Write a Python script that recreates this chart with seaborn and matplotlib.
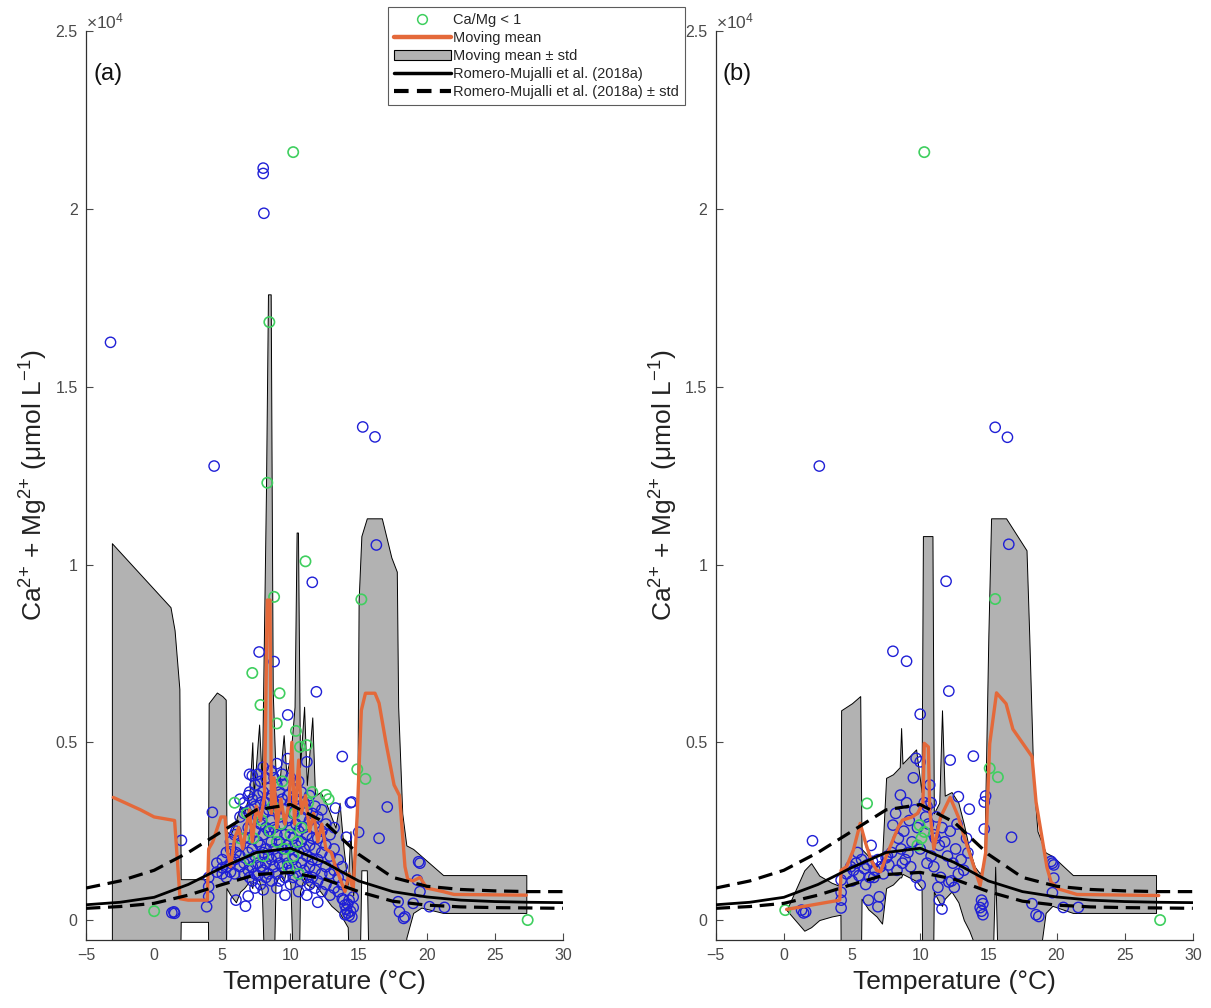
import matplotlib
matplotlib.use("Agg")
import matplotlib.pyplot as plt
import seaborn as sns
import pandas as pd
from matplotlib.ticker import FuncFormatter, MultipleLocator
from matplotlib.lines import Line2D
from matplotlib.patches import Patch

# ---------------- data ----------------
# Romero-Mujalli et al. (2018a) curve
rm_T = [-5, -2.5, 0, 2.5, 5, 7.5, 10, 12.5, 15, 17.5, 20, 22.5, 25, 27.5, 30]
rm_mean = [430, 500, 640, 1000, 1480, 1900, 2020, 1620, 1100, 800, 650, 560, 520, 500, 490]
rm_up = [900, 1100, 1400, 1900, 2500, 3100, 3250, 2750, 1850, 1200, 950, 860, 820, 800, 800]
rm_lo = [330, 380, 470, 700, 1000, 1280, 1340, 1150, 800, 530, 420, 370, 350, 340, 330]

# Panel (a) moving mean
a_mean_T = [-3.0, -1.0, 0.0, 1.5, 1.9, 2.5, 3.9, 4.0, 4.3, 4.9, 5.2, 5.4, 5.6, 5.9, 6.2, 6.5, 6.8,
            7.0, 7.2, 7.5, 7.8, 8.1, 8.3, 8.5, 8.6, 8.8, 9.0, 9.3, 9.6, 9.9, 10.1, 10.3, 10.6,
            10.8, 11.1, 11.4, 11.7, 12.0, 12.3, 12.6, 13.0, 13.3, 13.6, 14.0, 14.3, 14.6, 14.9,
            15.2, 15.5, 16.2, 16.5, 17.0, 17.6, 18.0, 18.4, 18.6, 19.0, 19.5, 20.0, 21.2, 22.0, 27.3]
a_mean_V = [3450, 3100, 2900, 2800, 600, 560, 560, 2000, 2200, 2900, 2900, 1900, 1500, 2300, 2600,
            2000, 2700, 3100, 2200, 3200, 2800, 3500, 9000, 9000, 3000, 4000, 2600, 3400, 2700,
            3300, 5000, 2700, 4500, 3000, 3500, 2500, 3000, 2200, 2700, 2000, 1900, 1500, 1200,
            800, 1300, 840, 3000, 5900, 6380, 6380, 6100, 5000, 3800, 3500, 1500, 1150, 1100,
            1200, 900, 800, 720, 700]

# Panel (a) moving mean +/- std band
a_band_T = [-3.1, 1.2, 1.5, 1.85, 1.95, 3.95, 4.0, 4.6, 5.0, 5.25, 5.3, 5.6, 6.0, 6.3, 6.6, 7.0,
            7.2, 7.3, 7.7, 7.9, 8.2, 8.35, 8.55, 8.7, 8.9, 9.2, 9.5, 9.7, 10.0, 10.3, 10.45,
            10.55, 10.7, 11.0, 11.2, 11.6, 11.8, 12.2, 12.6, 13.0, 13.3, 13.6, 13.9, 14.2, 14.4,
            14.6, 14.9, 15.0, 15.2, 15.6, 15.8, 16.7, 17.4, 17.8, 17.9, 18.2, 18.5, 19.0, 19.6,
            21.2, 27.3]
a_band_lo = [-3000, -3000, -3000, -3000, -50, -50, -3000, -3000, -3000, -3000, 900, 700, 500, 800,
             900, 1100, 900, 1200, 1100, 800, -3000, -3000, -3000, -3000, 1000, 1300, 1100, 1400,
             1000, -3000, -3000, -3000, 800, 1200, 1000, 900, 1000, 800, 600, 400, 300, 200, 0,
             -200, -3000, -3000, -3000, -3000, 1400, 1400, -3000, -3000, -3000, -3000, -3000,
             -3000, -500, 200, 350, 200, 200]
a_band_hi = [10600, 8800, 8150, 6500, 1150, 1150, 6100, 6400, 6300, 6200, 2500, 2400, 2800, 3200,
             3000, 3600, 5000, 3500, 5500, 3800, 12000, 17600, 17600, 6400, 4200, 3900, 5200,
             4100, 4600, 6000, 10900, 10900, 4300, 6000, 3800, 5700, 3500, 3600, 3300, 2900,
             2600, 3300, 2000, 1000, 2500, 700, 3000, 9000, 10800, 11300, 11300, 11300, 10200,
             9800, 6000, 3000, 2100, 2000, 1800, 1265, 1265]

# Panel (a) samples, Ca/Mg >= 1
a_blue_T = [-3.2, 4.4, 8.0, 8.0, 8.05, 7.7, 8.8, 11.9, 11.6, 9.8, 9.8, 13.8, 16.3, 15.3, 16.2, 17.1,
            16.5, 14.5, 13.3, 14.1, 15.0, 4.27, 2.0, 1.3, 1.5, 1.45, 3.85, 4.0, 4.0, 6.0, 6.7, 6.9,
            11.2, 7.2, 19.4, 19.5, 19.3, 19.5, 18.4, 18.0, 20.2, 21.3, 19.0, 17.9, 18.3,
            13.9, 14.0, 14.1, 14.2, 14.3, 14.4, 14.2, 14.5, 14.6, 14.0, 14.3, 14.6,
            4.0, 4.6, 4.6, 5.0, 5.0, 5.0, 5.3, 5.3, 5.3, 5.6, 5.6, 5.6, 5.6, 5.9, 5.9, 5.9,
            6.0, 6.0, 6.3, 6.3, 6.3, 6.3, 6.3, 6.6, 6.6, 6.6, 6.6, 6.6,
            6.9, 6.9, 6.9, 6.9, 7.0, 7.0, 7.0, 7.0, 7.0, 7.0, 7.2, 7.2, 7.2, 7.2, 7.2,
            7.4, 7.4, 7.4, 7.4, 7.4, 7.4, 7.6, 7.6, 7.6, 7.6, 7.6, 7.6, 7.8, 7.8, 7.8, 7.8, 7.8, 7.8,
            8.0, 8.0, 8.0, 8.0, 8.0, 8.0, 8.0, 8.2, 8.2, 8.2, 8.2, 8.2, 8.2, 8.4, 8.4, 8.4, 8.4, 8.4,
            8.6, 8.6, 8.6, 8.6, 8.6, 8.6, 8.8, 8.8, 8.8, 8.8, 8.8,
            9.0, 9.0, 9.0, 9.0, 9.0, 9.0, 9.0, 9.2, 9.2, 9.2, 9.2, 9.2, 9.4, 9.4, 9.4, 9.4, 9.4,
            9.6, 9.6, 9.6, 9.6, 9.6, 9.6, 9.8, 9.8, 9.8, 9.8,
            10.0, 10.0, 10.0, 10.0, 10.0, 10.0, 10.2, 10.2, 10.2, 10.2, 10.2, 10.4, 10.4, 10.4, 10.4,
            10.6, 10.6, 10.6, 10.6, 10.6, 10.6, 10.8, 10.8, 10.8, 10.8, 10.8,
            11.0, 11.0, 11.0, 11.0, 11.2, 11.2, 11.2, 11.2, 11.2, 11.4, 11.4, 11.4, 11.4, 11.4,
            11.6, 11.6, 11.6, 11.6, 11.8, 11.8, 11.8, 11.8, 11.8, 12.0, 12.0, 12.0, 12.0, 12.0,
            12.3, 12.3, 12.3, 12.3, 12.3, 12.6, 12.6, 12.6, 12.6, 12.9, 12.9, 12.9, 12.9,
            13.2, 13.2, 13.2, 13.2, 13.5, 13.5, 13.5, 13.8, 13.8, 13.8, 14.4]
a_blue_V = [16250, 12770, 21150, 21000, 19880, 7540, 7270, 6420, 9500, 5770, 4540, 4600, 10550, 13870,
            13590, 3180, 2300, 3320, 3150, 2330, 2470, 3030, 2240, 205, 190, 230, 375, 660, 940, 560,
            390, 675, 4450, 4060, 1640, 1600, 1125, 800, 90, 230, 375, 355, 470, 515, 47,
            560, 420, 300, 200, 130, 250, 450, 90, 350, 150, 560, 650,
            1200, 1350, 1600, 1470, 1300, 1700, 1500, 1900, 1200, 2000, 1600, 2200, 1350, 1700,
            2400, 1300, 2500, 1900, 2900, 1500, 2100, 1800, 3400, 3000, 1600, 2300, 1300, 3300,
            3500, 2600, 1900, 1400, 3600, 3100, 2300, 1700, 1200, 4100, 3400, 2800, 2000, 1500, 1100,
            3800, 3200, 2500, 1800, 1300, 900, 4100, 3500, 2900, 2200, 1600, 1250, 3900, 3300, 2700,
            2100, 1500, 1000,
            4300, 3600, 3000, 2400, 1900, 1400, 850, 4000, 3300, 2600, 2000, 1600, 1200, 3700, 3100,
            2500, 1800, 1300,
            4200, 3500, 2800, 2200, 1700, 1100, 4000, 3300, 2600, 2000, 1500,
            4400, 3800, 3100, 2400, 1800, 1300, 900, 3600, 2900, 2200, 1600, 1100, 4100, 3400, 2700,
            2000, 1500,
            3800, 3100, 2400, 1800, 1200, 700, 3500, 2800, 2100, 1600,
            4000, 3300, 2600, 2000, 1400, 1000, 3700, 3000, 2300, 1700, 1200, 3400, 2700, 2100, 1500,
            3900, 3200, 2500, 1900, 1300, 800, 3600, 2900, 2200, 1600, 1100,
            3300, 2600, 2000, 1400, 3100, 2400, 1800, 1200, 700, 3500, 2800, 2100, 1500, 1000,
            3000, 2300, 1700, 1200, 3200, 2600, 2000, 1400, 900, 2900, 2300, 1700, 1100, 500,
            3100, 2500, 1900, 1300, 800, 2700, 2100, 1500, 1000, 2400, 1800, 1300, 700,
            2600, 2000, 1400, 900, 1700, 1200, 800, 1500, 1000, 600, 3300]

# Panel (a) samples, Ca/Mg < 1
a_green_T = [10.2, 8.45, 8.3, 8.8, 11.1, 15.2, 7.2, 9.2, 7.8, 9.0, 10.4, 10.7, 11.2, 14.9, 15.5, 12.6,
             5.9, 0.0, 27.4, 12.8, 6.3, 7.3, 7.9, 8.5, 9.0, 9.3, 9.6, 10.0, 10.3, 10.5, 10.8, 11.3,
             11.6, 8.0, 7.0, 8.7, 9.8, 10.6, 6.8, 10.2, 9.4]
a_green_V = [21600, 16820, 12300, 9090, 10090, 9020, 6950, 6380, 6050, 5530, 5320, 4870, 4920, 4240,
             3970, 3520, 3300, 250, 0, 3400, 2300, 2300, 2800, 2500, 2200, 2700, 2000, 2400, 3000,
             2200, 2600, 3300, 3600, 1800, 1700, 3200, 1500, 1300, 3000, 1800, 3900]

# Panel (b) moving mean
b_mean_T = [0.2, 4.1, 4.2, 4.6, 5.1, 5.6, 6.0, 6.4, 6.8, 7.1, 7.5, 8.0, 8.4, 8.7, 9.4, 9.8, 10.2,
            10.3, 10.6, 10.7, 11.0, 11.5, 12.2, 12.8, 13.3, 14.4, 14.8, 15.1, 15.6, 16.3, 16.8,
            18.2, 18.5, 19.3, 19.6, 20.2, 21.5, 27.5]
b_mean_V = [300, 560, 1400, 1500, 1970, 2720, 2160, 1690, 1400, 1360, 1780, 2250, 2620, 2810, 2900,
            3000, 3280, 4970, 4870, 3090, 2000, 2900, 3450, 2900, 2250, 970, 1890, 4960, 6390,
            6085, 5370, 4600, 3320, 1480, 1070, 870, 720, 690]

# Panel (b) band
b_band_T = [0.2, 1.5, 2.0, 2.6, 3.5, 4.15, 4.2, 5.0, 5.6, 5.7, 6.2, 6.8, 7.2, 7.5, 8.0, 8.5, 8.6,
            8.7, 9.2, 9.7, 10.1, 10.2, 10.9, 11.0, 11.4, 11.6, 11.8, 12.3, 12.8, 13.2, 13.6, 14.0,
            14.4, 14.7, 15.0, 15.2, 15.5, 15.8, 16.3, 17.8, 18.0, 18.3, 18.6, 19.2, 19.7, 21.2,
            27.3]
b_band_lo = [280, -300, -200, 0, 100, 150, -3000, -3000, -3000, 600, 300, 100, -100, 900, 1000,
             1200, 1200, 1300, 1200, 1100, 900, -3000, -3000, 800, 500, 400, 600, 800, 500, 0,
             -300, -700, -1500, -3000, -3000, -3000, 1500, -3000, -3000, -3000, -3000, -3000,
             -1500, 200, 400, 200, 200]
b_band_hi = [280, 1400, 1600, 1250, 1050, 950, 5900, 6100, 6300, 2000, 1800, 1500, 1700, 4000, 4100,
             4300, 5400, 4400, 4600, 4800, 3600, 10800, 10800, 3000, 3300, 5900, 3500, 3600, 3300,
             2700, 2000, 1500, 1300, 1700, 8000, 11300, 11300, 11300, 11300, 10400, 8000, 4000,
             2500, 1900, 1800, 1265, 1265]

# Panel (b) samples, Ca/Mg >= 1
b_blue_T = [2.6, 15.5, 16.4, 16.5, 11.9, 8.0, 9.0, 12.1, 10.0, 13.9, 12.2, 14.8, 16.7, 9.7, 9.5, 10.0,
            2.1, 8.55, 8.0, 13.5, 12.8, 13.6, 14.7, 14.7, 1.3, 1.6, 1.45, 4.2, 4.2, 4.2, 4.2, 6.2,
            6.9, 7.0, 10.0, 19.6, 19.7, 19.8, 19.8, 19.7, 18.2, 18.7, 18.5, 20.5, 21.6, 14.6, 14.5,
            14.4, 14.6, 14.5, 11.3, 11.4, 11.6, 12.1, 12.5,
            4.6, 4.9, 5.1, 5.3, 5.5, 5.7, 5.9, 6.1, 6.3, 6.5, 6.7, 6.9, 7.1, 7.3, 7.5, 7.7, 5.0, 6.0,
            8.2, 8.4, 8.6, 8.8, 9.0, 9.2, 9.4, 9.6, 9.8, 10.0, 8.9, 9.3, 9.7, 8.3, 7.9,
            10.3, 10.4, 10.5, 10.6, 10.8, 11.0, 11.2, 11.4, 11.6, 11.8, 12.0, 12.2, 12.4, 12.6,
            12.8, 13.0, 11.0, 10.8, 11.5, 12.3, 13.2, 10.5, 6.4, 7.6, 8.7, 9.1, 10.7, 11.1, 12.7,
            13.4, 5.4, 6.6]
b_blue_V = [12770, 13860, 13580, 10570, 9530, 7560, 7280, 6440, 5790, 4610, 4500, 3490, 2330, 4550,
            4000, 4450, 2230, 3515, 2670, 1890, 3470, 3120, 3320, 2560, 280, 230, 200, 340, 560,
            1125, 780, 560, 375, 655, 985, 1650, 1600, 1550, 1180, 770, 460, 100, 150, 355, 355,
            460, 250, 350, 150, 560, 920, 560, 310, 1070, 920,
            1300, 1500, 1400, 1600, 1250, 1700, 1450, 1550, 1200, 1650, 1400, 1700, 1500, 1300,
            1750, 1550, 1100, 1000,
            3000, 2300, 2000, 2500, 3300, 2800, 2200, 3100, 2600, 2000, 1700, 1500, 1200, 1400, 1900,
            3300, 2900, 3200, 2700, 3300, 2400, 2900, 2100, 2600, 2200, 1800, 2500, 1600, 2000,
            1300, 1700, 1500, 1800, 1200, 1100, 1400, 1600, 2100, 1800, 1600, 1900, 3800, 2300,
            2700, 2300, 1900, 1200]

# Panel (b) samples, Ca/Mg < 1
b_green_T = [10.3, 15.5, 15.1, 15.7, 6.1, 9.95, 10.3, 27.6, 0.1, 10.1, 9.8]
b_green_V = [21600, 9030, 4270, 4020, 3280, 2670, 2480, 0, 280, 2300, 2100]

# ---------------- styling ----------------
sns.set_theme(style="white")
plt.rcParams["font.family"] = ["Liberation Sans", "DejaVu Sans"]
plt.rcParams["mathtext.default"] = "regular"

BLUE = "#1f1fd6"
GREEN = "#3fcf5f"
ORANGE = "#e4693a"
GRAY = "#b2b2b2"
TICK_C = "#4a4a4a"

fig = plt.figure(figsize=(12.11, 10.08), dpi=100)
axes = [fig.add_axes([0.071, 0.0675, 0.394, 0.9015]),
        fig.add_axes([0.591, 0.0675, 0.394, 0.9015])]

panels = [
    ("(a)", a_band_T, a_band_lo, a_band_hi, a_mean_T, a_mean_V, a_blue_T, a_blue_V, a_green_T, a_green_V),
    ("(b)", b_band_T, b_band_lo, b_band_hi, b_mean_T, b_mean_V, b_blue_T, b_blue_V, b_green_T, b_green_V),
]

rm = pd.DataFrame({"T": rm_T, "mean": rm_mean, "up": rm_up, "lo": rm_lo})

for ax, (lab, bT, blo, bhi, mT, mV, blT, blV, grT, grV) in zip(axes, panels):
    ax.fill_between(bT, blo, bhi, facecolor=GRAY, edgecolor="black", linewidth=0.7, zorder=1)
    sns.scatterplot(x=blT, y=blV, ax=ax, marker="o", s=55, facecolors="none",
                    edgecolor=BLUE, linewidth=1.0, zorder=3, legend=False)
    sns.scatterplot(x=grT, y=grV, ax=ax, marker="o", s=55, facecolors="none",
                    edgecolor=GREEN, linewidth=1.2, zorder=3, legend=False)
    sns.lineplot(x=mT, y=mV, ax=ax, color=ORANGE, linewidth=2.4, sort=False,
                 estimator=None, zorder=4, legend=False)
    sns.lineplot(data=rm, x="T", y="mean", ax=ax, color="black", linewidth=2.0,
                 sort=False, estimator=None, zorder=5, legend=False)
    for col in ["up", "lo"]:
        sns.lineplot(data=rm, x="T", y=col, ax=ax, color="black", linewidth=2.3,
                     dashes=False, sort=False, estimator=None, zorder=5, legend=False,
                     linestyle=(0, (4.5, 2.4)))

    ax.set_xlim(-5, 30)
    ax.set_ylim(-560, 25000)
    ax.xaxis.set_major_locator(MultipleLocator(5))
    ax.yaxis.set_major_locator(MultipleLocator(5000))
    ax.yaxis.set_major_formatter(FuncFormatter(lambda v, p: f"{v/1e4:g}"))
    for s in ["top", "right"]:
        ax.spines[s].set_visible(False)
    for s in ["left", "bottom"]:
        ax.spines[s].set_color("#303030")
        ax.spines[s].set_linewidth(0.9)
    ax.tick_params(direction="in", length=5, width=0.8, colors=TICK_C, labelsize=11.5,
                   left=True, bottom=True, pad=6)
    ax.set_xlabel("Temperature (°C)", fontsize=19, color="#222222", labelpad=5)
    ax.set_ylabel("Ca$^{2{+}}$ + Mg$^{2{+}}$ (μmol L$^{-1}$)", fontsize=19, color="#222222",
                  labelpad=4)
    ax.text(0.0, 1.0, "×10$^{4}$", transform=ax.transAxes, fontsize=12.5, color=TICK_C,
            ha="left", va="bottom")
    ax.text(0.015, 0.965, lab, transform=ax.transAxes, fontsize=17, color="#111111",
            ha="left", va="top")

handles = [
    Line2D([], [], linestyle="none", marker="o", markerfacecolor="none",
           markeredgecolor=GREEN, markersize=7, markeredgewidth=1.1),
    Line2D([], [], color=ORANGE, linewidth=3.2),
    Patch(facecolor=GRAY, edgecolor="black", linewidth=0.8),
    Line2D([], [], color="black", linewidth=2.5),
    Line2D([], [], color="black", linewidth=3.0, linestyle=(0, (3.5, 2))),
]
labels = ["Ca/Mg < 1", "Moving mean", "Moving mean ± std", "Romero-Mujalli et al. (2018a)",
          "Romero-Mujalli et al. (2018a) ± std"]
leg = fig.legend(handles, labels, loc="upper left", bbox_to_anchor=(388 / 1211, 1 - 7 / 1008),
                 fontsize=10.5, frameon=True, fancybox=False, edgecolor="#333333",
                 handlelength=3.9, handletextpad=0.15, labelspacing=0.28, borderpad=0.4,
                 borderaxespad=0)
leg.get_frame().set_linewidth(0.8)

fig.savefig("out.png", dpi=100)
